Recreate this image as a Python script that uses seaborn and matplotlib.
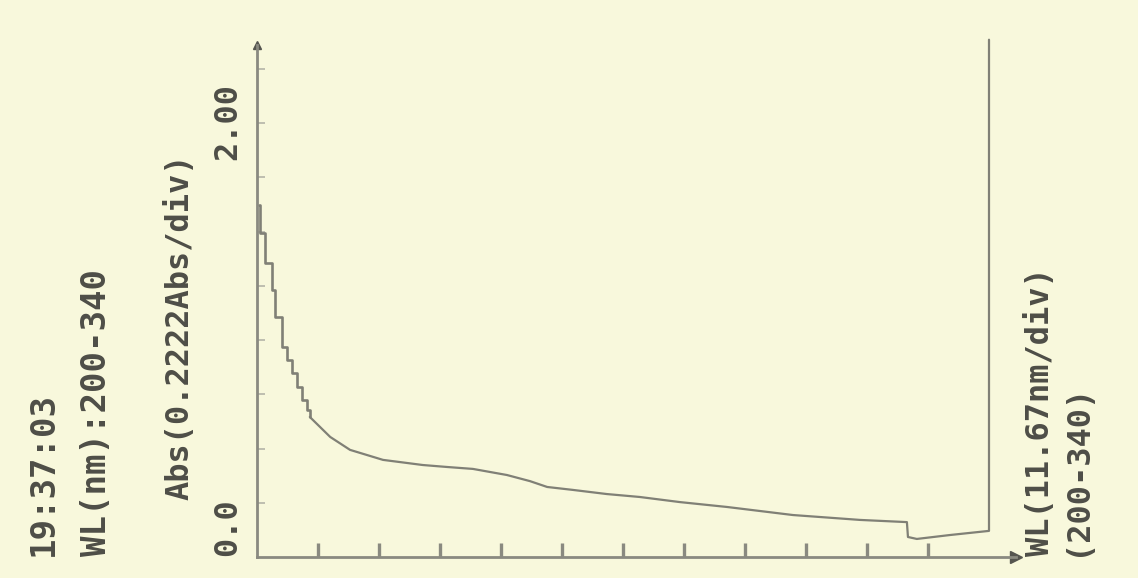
import matplotlib
matplotlib.use("Agg")
import matplotlib.pyplot as plt
import pandas as pd
import seaborn as sns

# Absorbance trace, 200-340 nm scan.
# Steep rise towards 200 nm, drawn in plotter steps.
wl_steep = [200.4, 200.6, 201.5, 202.9, 203.4, 204.8, 205.7, 206.7, 207.6, 208.6, 209.6, 210.1]
abs_steep = [1.443, 1.328, 1.205, 1.094, 0.984, 0.861, 0.807, 0.754, 0.697, 0.643, 0.602, 0.574]

# Remainder of the scan; the pen lifts off scale at the end (340 nm).
wl_tail = [210.1, 214.0, 217.8, 224.1, 231.7, 236.3, 241.3, 247.8, 252.2, 255.5, 260.4,
           266.9, 273.2, 280.9, 289.9, 302.5, 315.3, 324.3, 324.5, 326.2, 332.5, 340.0, 340.0]
abs_tail = [0.574, 0.492, 0.439, 0.398, 0.377, 0.369, 0.361, 0.336, 0.311, 0.287, 0.275,
            0.258, 0.246, 0.225, 0.205, 0.172, 0.152, 0.143, 0.082, 0.074, 0.090, 0.107, 2.12]

# Printed header / scale annotations
time_label = "19:37:03"
range_label = "WL(nm):200-340"
abs_scale_label = "Abs(0.2222Abs/div)"
abs_min_label = "0.0"
abs_max_label = "2.00"
wl_scale_label = "WL(11.67nm/div)"
wl_range_label = "(200-340)"

WL_MIN, WL_MAX = 200.0, 340.0
WL_DIV = (WL_MAX - WL_MIN) / 12
ABS_DIV = 0.2222

paper = "#f8f8dc"
ink = "#4e4e47"
pen = "#808076"

sns.set_theme(style="white")
plt.rcParams["font.family"] = ["DejaVu Sans Mono", "DejaVu Sans"]

W, H = 1138, 578
fig = plt.figure(figsize=(W / 100, H / 100), dpi=100, facecolor=paper)

# axes frame in pixel terms: 200 nm at x=257, 0 Abs at y=557
x0, x1 = 257, 1022
y0, y1 = 557, 35
px_per_nm = (989 - 257) / (WL_MAX - WL_MIN)
px_per_abs = (557 - 69) / 2.0
ax = fig.add_axes([x0 / W, (H - y0) / H, (x1 - x0) / W, (y0 - y1) / H])
ax.set_facecolor(paper)
ax.set_xlim(WL_MIN, WL_MIN + (x1 - x0) / px_per_nm)
ax.set_ylim(0, (y0 - y1) / px_per_abs)

steep = pd.DataFrame({"wl": wl_steep, "abs": abs_steep})
tail = pd.DataFrame({"wl": wl_tail, "abs": abs_tail})
sns.lineplot(data=steep, x="wl", y="abs", ax=ax, color=pen, lw=1.9,
             estimator=None, sort=False, drawstyle="steps-post")
sns.lineplot(data=tail, x="wl", y="abs", ax=ax, color=pen, lw=1.6,
             estimator=None, sort=False)

# axis lines with arrowheads
for s in ("top", "right"):
    ax.spines[s].set_visible(False)
y_top = (557 - 45) / px_per_abs
x_end = WL_MIN + (1016 - 257) / px_per_nm
ax.spines["left"].set_bounds(0, y_top)
ax.spines["bottom"].set_bounds(WL_MIN, x_end)
for s in ("left", "bottom"):
    ax.spines[s].set_color("#8a8a80")
    ax.spines[s].set_linewidth(2.0)
ax.plot([x_end], [0], marker=">", ms=9, color="#55554f", clip_on=False)
ax.plot([WL_MIN], [y_top], marker="^", ms=6, color="#55554f", clip_on=False)

ax.set_xticks([WL_MIN + WL_DIV * k for k in range(1, 12)])
ax.set_yticks([ABS_DIV * k for k in range(1, 10)])
ax.tick_params(axis="x", direction="in", length=10, width=2.4, color="#8a8a80",
               labelbottom=False, bottom=True)
ax.tick_params(axis="y", direction="in", length=6, width=1.2, color="#b4b4a8",
               labelleft=False, left=True)
ax.set_xlabel("")
ax.set_ylabel("")
ax.grid(False)

def label(text, xc, yb, size=23):
    fig.text(xc / W, (H - yb) / H, text, rotation=90, ha="center", va="bottom",
             fontsize=size, fontweight="bold", color=ink,
             family=["DejaVu Sans Mono", "DejaVu Sans"])

label(time_label, 43, 556, 24.5)
label(range_label, 96, 556, 24.5)
label(abs_scale_label, 180, 500)
label(abs_min_label, 228, 556)
label(abs_max_label, 228, 160)
label(wl_scale_label, 1040, 556)
label(wl_range_label, 1076, 556)

fig.savefig("out.png", dpi=100, facecolor=paper)
